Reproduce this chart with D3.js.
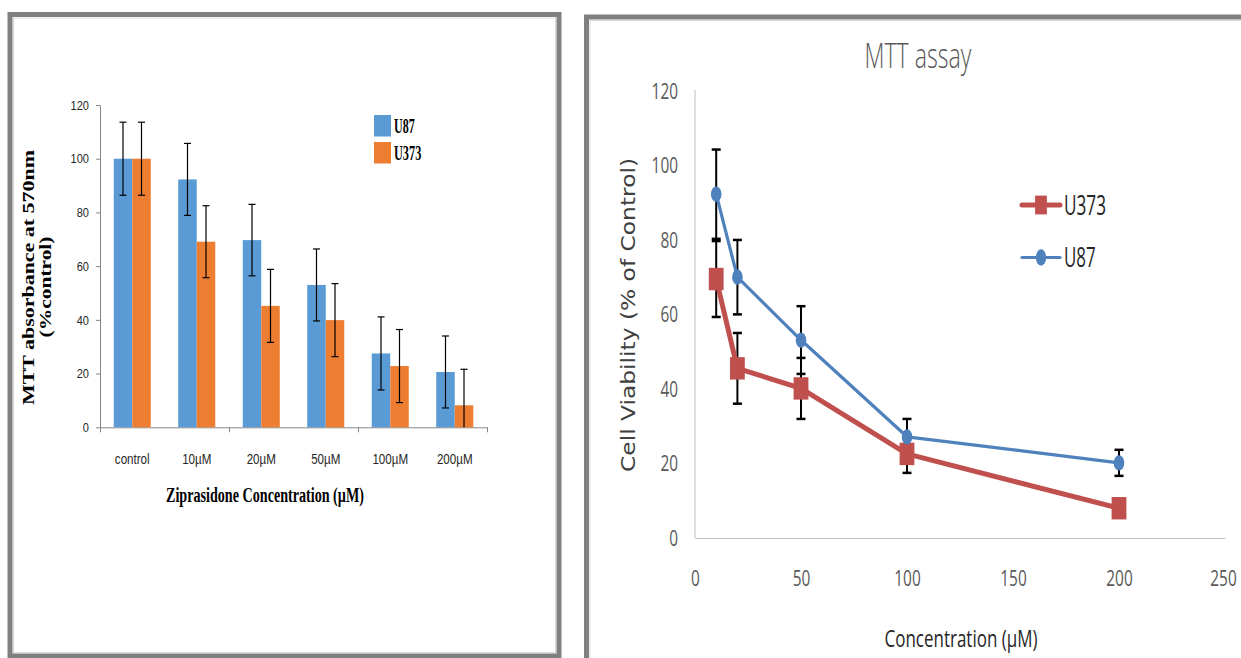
<!DOCTYPE html>
<html>
<head>
<meta charset="utf-8">
<script src="https://cdn.jsdelivr.net/npm/d3@7"></script>
<style>
  html, body { margin: 0; padding: 0; background: #fff; }
  svg { display: block; }
</style>
</head>
<body>
<svg id="chart" width="1241" height="658"></svg>
<script>
// ---------- DATA ----------
const barCategories = ["control", "10µM", "20µM", "50µM", "100µM", "200µM"];
const barSeries = ["U87", "U373"];
const barU87 = [100, 92.3, 69.7, 53.0, 27.5, 20.6];
const barU87Err = [13.6, 13.4, 13.3, 13.4, 13.6, 13.4];
const barU373 = [100, 69.1, 45.2, 39.9, 22.8, 8.2];
const barU373Err = [13.6, 13.4, 13.6, 13.6, 13.6, 13.4];
const barYTicks = [0, 20, 40, 60, 80, 100, 120];

const lineConc = [10, 20, 50, 100, 200];
const lineSeries = ["U373", "U87"];
const lineU373 = [69.6, 45.6, 40.2, 22.6, 8.0];
const lineU373Err = [10.2, 9.5, 8.2, 5.1, 2.0];
const lineU87 = [92.4, 70.1, 53.2, 27.2, 20.2];
const lineU87Err = [12.0, 10.0, 9.1, 4.8, 3.5];
const lineYTicks = [0, 20, 40, 60, 80, 100, 120];
const lineXTicks = [0, 50, 100, 150, 200, 250];

// ---------- HELPERS ----------
const svg = d3.select("#chart");
svg.append("rect").attr("width", 1241).attr("height", 658).attr("fill", "#fff");

function fit(sel, w) {
  sel.attr("textLength", w).attr("lengthAdjust", "spacingAndGlyphs");
}
function squeeze(sel, f) {
  sel.each(function () {
    const n = this.getComputedTextLength();
    d3.select(this).attr("textLength", n * f).attr("lengthAdjust", "spacingAndGlyphs");
  });
}
// horizontal condensing through a transform (keeps the x position)
function narrow(sel, f) {
  sel.each(function () {
    const t = d3.select(this);
    const x = +(t.attr("x") || 0);
    t.attr("x", x / f).attr("transform", `scale(${f},1)`);
  });
}

// ---------- FRAMES ----------
svg.append("rect").attr("x", 10).attr("y", 14.5).attr("width", 549).attr("height", 641.5)
  .attr("fill", "none").attr("stroke", "#808080").attr("stroke-width", 5);
svg.append("rect").attr("x", 13.5).attr("y", 18).attr("width", 542).attr("height", 634.5)
  .attr("fill", "none").attr("stroke", "#d9d9d9").attr("stroke-width", 1);
svg.append("rect").attr("x", 586.5).attr("y", 17).attr("width", 700).attr("height", 700)
  .attr("fill", "none").attr("stroke", "#808080").attr("stroke-width", 5);
svg.append("rect").attr("x", 590).attr("y", 20.5).attr("width", 700).attr("height", 700)
  .attr("fill", "none").attr("stroke", "#d9d9d9").attr("stroke-width", 1);

// ---------- LEFT: BAR CHART ----------
const L = svg.append("g");
const bx = d3.scaleBand().domain(barCategories).range([100, 487]).padding(0);
const bw = bx.bandwidth();
const bxs = d3.scaleBand().domain(barSeries).range([bw * 0.213, bw * 0.787]);
const by = d3.scaleLinear().domain([0, 120]).range([427.3, 105]);
const barColors = { "U87": "#5b9bd5", "U373": "#ed7d31" };
const barVals = { "U87": barU87, "U373": barU373 };
const barErrs = { "U87": barU87Err, "U373": barU373Err };

// y axis
const yAxL = L.append("g").attr("transform", "translate(100,0)")
  .call(d3.axisLeft(by).tickValues(barYTicks).tickSize(4).tickPadding(7).tickSizeOuter(0));
yAxL.select(".domain").attr("stroke", "#868686");
yAxL.selectAll(".tick line").attr("stroke", "#868686");
yAxL.selectAll(".tick text").attr("font-family", "Liberation Sans, Arial, sans-serif")
  .attr("font-size", 13).attr("fill", "#262626").call(squeeze, 0.85);

// x axis (ticks every two categories)
const bxLin = d3.scaleLinear().domain([0, barCategories.length]).range([100, 487]);
const xAxL = L.append("g").attr("transform", "translate(0,427.3)")
  .call(d3.axisBottom(bxLin).tickValues([0, 2, 4, 6]).tickSize(5).tickFormat("").tickSizeOuter(0));
xAxL.select(".domain").attr("stroke", "#868686");
xAxL.selectAll(".tick line").attr("stroke", "#868686");

L.append("g").selectAll("text").data(barCategories).join("text")
  .attr("x", d => bx(d) + bw / 2).attr("y", 463.5)
  .attr("text-anchor", "middle")
  .attr("font-family", "Liberation Sans, Arial, sans-serif").attr("font-size", 14.5)
  .attr("fill", "#262626").text(d => d).call(squeeze, 0.8);

// bars
barSeries.forEach(s => {
  L.append("g").selectAll("rect").data(barCategories).join("rect")
    .attr("x", d => bx(d) + bxs(s))
    .attr("width", bxs.bandwidth())
    .attr("y", (d, i) => by(barVals[s][i]))
    .attr("height", (d, i) => by(0) - by(barVals[s][i]))
    .attr("fill", barColors[s]);
});
// error bars
barSeries.forEach(s => {
  const g = L.append("g").attr("stroke", "#000").attr("stroke-width", 1.2);
  barCategories.forEach((c, i) => {
    const cx = bx(c) + bxs(s) + bxs.bandwidth() / 2;
    const v = barVals[s][i], e = barErrs[s][i];
    const lo = Math.max(0, v - e), hi = v + e;
    g.append("line").attr("x1", cx).attr("x2", cx).attr("y1", by(lo)).attr("y2", by(hi));
    g.append("line").attr("x1", cx - 3.5).attr("x2", cx + 3.5).attr("y1", by(hi)).attr("y2", by(hi));
    if (v - e > 0) g.append("line").attr("x1", cx - 3.5).attr("x2", cx + 3.5).attr("y1", by(lo)).attr("y2", by(lo));
  });
});

// legend
const legL = L.append("g");
const legLY = { "U87": 115, "U373": 142 };
const legLW = { "U87": 20.7, "U373": 27.3 };
barSeries.forEach(s => {
  legL.append("rect").attr("x", 374).attr("y", legLY[s]).attr("width", 17).attr("height", 21.5)
    .attr("fill", barColors[s]);
  legL.append("text").attr("x", 394).attr("y", legLY[s] + 17.5)
    .attr("font-family", "Liberation Serif, Times New Roman, serif").attr("font-weight", "bold")
    .attr("font-size", 20).attr("fill", "#000").text(s).call(fit, legLW[s]);
});

// axis titles
L.append("text").attr("x", 265).attr("y", 502).attr("text-anchor", "middle")
  .attr("font-family", "Liberation Serif, Times New Roman, serif").attr("font-weight", "bold")
  .attr("font-size", 20).attr("fill", "#000").text("Ziprasidone Concentration (µM)").call(fit, 198);
L.append("text").attr("transform", "translate(33.5,277.5) rotate(-90)").attr("text-anchor", "middle")
  .attr("font-family", "Liberation Serif, Times New Roman, serif").attr("font-weight", "bold")
  .attr("font-size", 17).attr("fill", "#000").text("MTT absorbance at 570nm").call(fit, 255);
L.append("text").attr("transform", "translate(50.5,287) rotate(-90)").attr("text-anchor", "middle")
  .attr("font-family", "Liberation Serif, Times New Roman, serif").attr("font-weight", "bold")
  .attr("font-size", 17).attr("fill", "#000").text("(%control)").call(fit, 101);

// ---------- RIGHT: LINE CHART ----------
const R = svg.append("g");
const rx = d3.scaleLinear().domain([0, 250]).range([695, 1225]);
const ry = d3.scaleLinear().domain([0, 120]).range([538, 91.5]);
const lineColors = { "U373": "#c0504d", "U87": "#4f81bd" };
const lineWidths = { "U373": 5, "U87": 3.2 };
const lineVals = { "U373": lineU373, "U87": lineU87 };
const lineErrs = { "U373": lineU373Err, "U87": lineU87Err };

// axes
const yAxR = R.append("g").attr("transform", "translate(695,0)")
  .call(d3.axisLeft(ry).tickValues(lineYTicks).tickSize(0).tickPadding(17).tickSizeOuter(0));
yAxR.select(".domain").attr("stroke", "#bfbfbf").attr("d", `M0,${ry(120) - 1.5}V${ry(0)}`);
yAxR.selectAll(".tick text").attr("font-family", "Open Sans, Liberation Sans, sans-serif")
  .attr("font-size", 22).attr("fill", "#595959").call(narrow, 0.7);

const xAxR = R.append("g").attr("transform", "translate(0,538)")
  .call(d3.axisBottom(rx).tickValues(lineXTicks).tickSize(0).tickPadding(32).tickSizeOuter(0));
xAxR.select(".domain").attr("stroke", "#bfbfbf");
xAxR.selectAll(".tick text").attr("font-family", "Open Sans, Liberation Sans, sans-serif")
  .attr("font-size", 22).attr("fill", "#595959");
// keep the last label inside the picture
xAxR.selectAll(".tick").filter(d => d === 250).select("text").attr("x", -2);
xAxR.selectAll(".tick text").call(narrow, 0.7);

// error bars
lineSeries.forEach(s => {
  const g = R.append("g").attr("stroke", "#000").attr("stroke-width", 2);
  lineConc.forEach((c, i) => {
    const cx = rx(c), v = lineVals[s][i], e = lineErrs[s][i];
    g.append("line").attr("x1", cx).attr("x2", cx).attr("y1", ry(v - e)).attr("y2", ry(v + e));
    g.append("line").attr("x1", cx - 4.5).attr("x2", cx + 4.5).attr("y1", ry(v + e)).attr("y2", ry(v + e)).attr("stroke-width", 2.5);
    g.append("line").attr("x1", cx - 4.5).attr("x2", cx + 4.5).attr("y1", ry(v - e)).attr("y2", ry(v - e)).attr("stroke-width", 2.5);
  });
});

// lines + markers
const lineGen = d3.line().x((d, i) => rx(lineConc[i])).y(d => ry(d));
lineSeries.forEach(s => {
  R.append("path").datum(lineVals[s]).attr("d", lineGen).attr("fill", "none")
    .attr("stroke", lineColors[s]).attr("stroke-width", lineWidths[s]).attr("stroke-linejoin", "round");
});
lineSeries.forEach(s => {
  const g = R.append("g").attr("fill", lineColors[s]);
  if (s === "U373") {
    g.selectAll("rect").data(lineVals[s]).join("rect")
      .attr("x", (d, i) => rx(lineConc[i]) - 7.4).attr("y", d => ry(d) - 11.2)
      .attr("width", 14.8).attr("height", 22.4);
  } else {
    g.selectAll("ellipse").data(lineVals[s]).join("ellipse")
      .attr("cx", (d, i) => rx(lineConc[i])).attr("cy", d => ry(d))
      .attr("rx", 5.3).attr("ry", 7.6);
  }
});

// legend
const legRY = { "U373": 205, "U87": 257.5 };
const legRW = { "U373": 42, "U87": 31.7 };
lineSeries.forEach(s => {
  const y = legRY[s];
  R.append("line").attr("x1", 1022).attr("x2", 1060).attr("y1", y).attr("y2", y)
    .attr("stroke", lineColors[s]).attr("stroke-width", lineWidths[s]).attr("stroke-linecap", "round");
  if (s === "U373") {
    R.append("rect").attr("x", 1041 - 5.9).attr("y", y - 9.4).attr("width", 11.8).attr("height", 18.8)
      .attr("fill", lineColors[s]);
  } else {
    R.append("ellipse").attr("cx", 1041).attr("cy", y).attr("rx", 5.1).attr("ry", 8.3)
      .attr("fill", lineColors[s]);
  }
  R.append("text").attr("x", 1064).attr("y", y + 9.5)
    .attr("font-family", "Open Sans, Liberation Sans, sans-serif")
    .attr("font-size", 26.5).attr("fill", "#262626").text(s).call(fit, legRW[s]);
});

// titles
R.append("text").attr("x", 918).attr("y", 68.3).attr("text-anchor", "middle")
  .attr("font-family", "Open Sans, Liberation Sans, sans-serif").attr("font-weight", 300)
  .attr("font-size", 35).attr("fill", "#595959").text("MTT assay").call(fit, 107);
R.append("text").attr("x", 961).attr("y", 646.5).attr("text-anchor", "middle")
  .attr("font-family", "Open Sans, Liberation Sans, sans-serif")
  .attr("font-size", 23).attr("fill", "#262626").text("Concentration (µM)").call(fit, 153);
R.append("text").attr("transform", "translate(635,315) rotate(-90)").attr("text-anchor", "middle")
  .attr("font-family", "DejaVu Sans, Verdana, sans-serif")
  .attr("font-size", 19).attr("fill", "#404040").text("Cell Viability (% of Control)").call(fit, 314);
</script>
</body>
</html>
